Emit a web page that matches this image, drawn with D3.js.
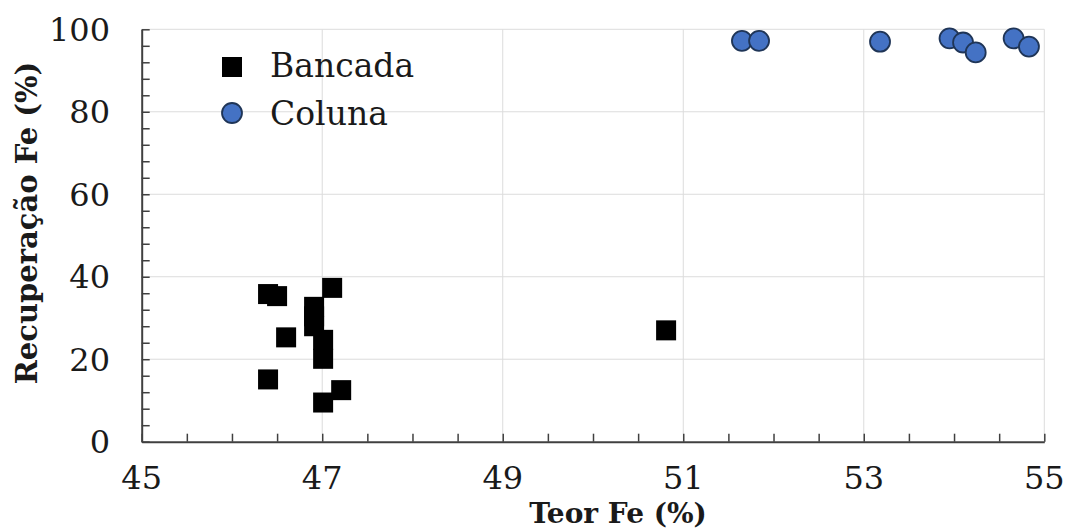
<!DOCTYPE html>
<html>
<head>
<meta charset="utf-8">
<script src="https://cdn.jsdelivr.net/npm/d3@7"></script>
<style>
  html, body { margin: 0; padding: 0; background: #fff; }
  svg { display: block; }
  text { font-family: "DejaVu Serif", serif; fill: #1a1a1a; }
</style>
</head>
<body>
<svg id="chart" width="1069" height="530"></svg>
<script>
// Bench-scale flotation results (Teor Fe %, Recuperação Fe %)
const bancadaTeor = [46.40, 46.50, 47.11, 46.91, 46.91, 46.91, 47.01, 47.01, 46.60, 46.40, 47.21, 47.01, 50.81];
const bancadaRec  = [35.8, 35.3, 37.3, 32.7, 30.4, 28.0, 24.7, 20.1, 25.3, 15.1, 12.5, 9.5, 27.0];

// Column flotation results
const colunaTeor = [51.65, 51.84, 53.18, 53.95, 54.10, 54.24, 54.66, 54.83];
const colunaRec  = [97.2, 97.2, 97.0, 97.8, 96.8, 94.4, 97.8, 95.8];

const xTickLabels = [45, 47, 49, 51, 53, 55];
const yTickLabels = [0, 20, 40, 60, 80, 100];
const seriesNames = ["Bancada", "Coluna"];

const svg = d3.select("#chart");

const x = d3.scaleLinear().domain([45, 55]).range([141.7, 1044.3]);
const y = d3.scaleLinear().domain([0, 100]).range([441.7, 29.3]);

// gridlines
const grid = svg.append("g").attr("stroke", "#dcdcdc").attr("stroke-width", 1);
grid.selectAll("line.v").data(xTickLabels.slice(1)).join("line")
  .attr("x1", d => x(d)).attr("x2", d => x(d))
  .attr("y1", y(0)).attr("y2", y(100));
grid.selectAll("line.h").data(yTickLabels.slice(1)).join("line")
  .attr("x1", x(45)).attr("x2", x(55))
  .attr("y1", d => y(d)).attr("y2", d => y(d));

// minor/major tick marks pointing inward
const xTicks = d3.range(45, 55.001, 0.5);
const yTicks = d3.range(0, 100.001, 4);

const xAxis = svg.append("g").attr("transform", `translate(0,${y(0)})`)
  .call(d3.axisBottom(x).tickValues(xTicks).tickSize(-8).tickSizeOuter(0).tickFormat(""));
const yAxis = svg.append("g").attr("transform", `translate(${x(45)},0)`)
  .call(d3.axisLeft(y).tickValues(yTicks).tickSize(-8).tickSizeOuter(0).tickFormat(""));
[xAxis, yAxis].forEach(g => {
  g.select(".domain").attr("stroke", "#404040").attr("stroke-width", 2);
  g.selectAll(".tick line").attr("stroke", "#404040").attr("stroke-width", 1.5);
});

// tick labels
svg.append("g").selectAll("text").data(xTickLabels).join("text")
  .attr("x", d => x(d)).attr("y", 489)
  .attr("text-anchor", "middle").attr("font-size", 32)
  .text(d => d);
svg.append("g").selectAll("text").data(yTickLabels).join("text")
  .attr("x", 110).attr("y", d => y(d))
  .attr("dy", "0.36em")
  .attr("text-anchor", "end").attr("font-size", 32)
  .text(d => d);

// axis titles
svg.append("text").attr("x", 618).attr("y", 523)
  .attr("text-anchor", "middle").attr("font-size", 28).attr("font-weight", "bold")
  .text("Teor Fe (%)");
svg.append("text").attr("transform", "translate(37,223) rotate(-90)")
  .attr("text-anchor", "middle").attr("font-size", 29).attr("font-weight", "bold")
  .text("Recuperação Fe (%)");

// series
const bancada = bancadaTeor.map((t, i) => ({ t, r: bancadaRec[i] }));
const coluna = colunaTeor.map((t, i) => ({ t, r: colunaRec[i] }));
const sq = 20;

svg.append("g").selectAll("rect").data(bancada).join("rect")
  .attr("x", d => x(d.t) - sq / 2).attr("y", d => y(d.r) - sq / 2)
  .attr("width", sq).attr("height", sq).attr("fill", "#000");

svg.append("g").selectAll("circle").data(coluna).join("circle")
  .attr("cx", d => x(d.t)).attr("cy", d => y(d.r)).attr("r", 10)
  .attr("fill", "#4472c4").attr("stroke", "#1f3557").attr("stroke-width", 1.8);

// legend
const legend = svg.append("g");
legend.append("rect").attr("x", 222).attr("y", 57).attr("width", sq).attr("height", sq).attr("fill", "#000");
legend.append("circle").attr("cx", 232).attr("cy", 113).attr("r", 10)
  .attr("fill", "#4472c4").attr("stroke", "#1f3557").attr("stroke-width", 1.8);
legend.selectAll("text").data(seriesNames).join("text")
  .attr("x", 270).attr("y", (d, i) => 77 + i * 48)
  .attr("font-size", 33)
  .text(d => d);
</script>
</body>
</html>
